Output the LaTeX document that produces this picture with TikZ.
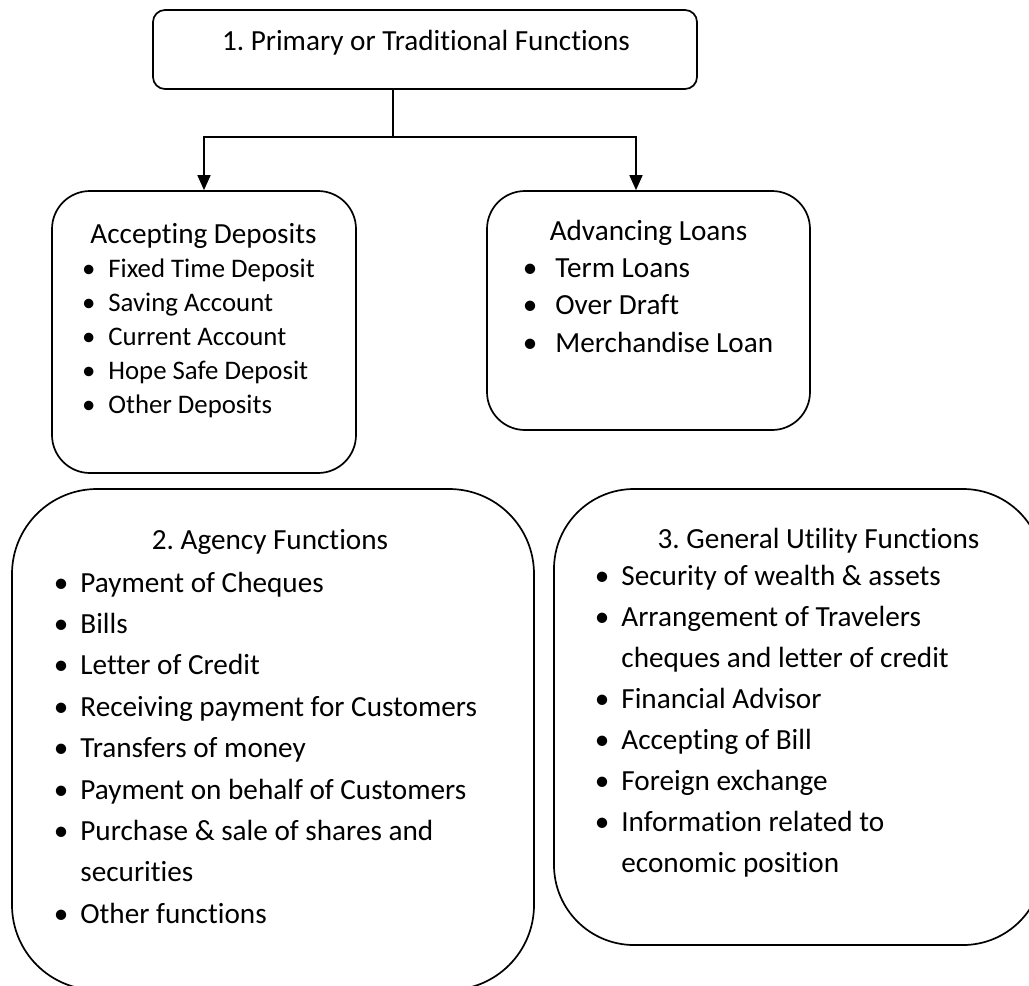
\documentclass[tikz,border=0pt]{standalone}
\usepackage{fontspec}
\setmainfont{Carlito}[Ligatures=NoCommon]
\frenchspacing
\usetikzlibrary{arrows.meta}

\tikzset{
  box/.style={draw, line width=0.85pt, rounded corners=#1, inner sep=0pt},
  link/.style={line width=0.85pt},
  arrow/.style={link, -{Triangle[width=6.5pt,length=7.5pt]}},
  head/.style={font=\fontsize{14.6}{17}\selectfont, anchor=base, inner sep=0pt},
  entry/.style={font=\fontsize{14.6}{17}\selectfont, anchor=base west, inner sep=0pt},
  small entry/.style={entry, font=\fontsize{13.4}{16}\selectfont},
}
% bullet hung to the left of the text
\newcommand{\blt}[1]{\llap{\textbullet\hskip #1}}

\begin{document}
\begin{tikzpicture}[x=0.5pt,y=-0.5pt]
    \useasboundingbox (0,0) rectangle (1029,986);
    \clip (0,0) rectangle (1029,986);

    % Top box
    \node[box=6pt, minimum width=272pt, minimum height=39.5pt] (primary) at (425,49.5) {};
    \node[head] (primary-title) at (426,50) {1. Primary or Traditional Functions};

    % Second row
    \node[box=19pt, minimum width=152pt, minimum height=141pt] (deposits) at (204,332) {};
    \node[box=19pt, minimum width=161.5pt, minimum height=119.5pt] (loans) at (648.5,310.5) {};

    % Split from the top box down to both boxes
    \coordinate (split) at (393,137);
    \draw[link] (primary.south -| split) -- (split);
    \draw[arrow] (split) -| (deposits.north);
    \draw[arrow] (split) -| ([xshift=-6.25pt]loans.north);

    \node[head] (deposits-title) at (203.5,243) {Accepting Deposits};
    \foreach \t [count=\i] in {Fixed Time Deposit, Saving Account, Current Account,
                               Hope Safe Deposit, Other Deposits}
        \node[small entry] (dep-\i) at (108,{277+(\i-1)*34}) {\blt{6.5pt}\t};

    \node[head] (loans-title) at (648.5,240) {Advancing Loans};
    \foreach \t [count=\i] in {Term Loans, Over Draft, Merchandise Loan}
        \node[entry] (loan-\i) at (555,{277+(\i-1)*37.5}) {\blt{9pt}\t};

    % Bottom row
    \node[box=42.5pt, minimum width=261pt, minimum height=250.5pt] (agency) at (273,739.5) {};
    \node[box=40pt, minimum width=244.5pt, minimum height=228pt] (utility) at (798.5,717) {};

    \node[head] (agency-title) at (270,549) {2. Agency Functions};
    \foreach \b/\t [count=\i] in {1/Payment of Cheques, 1/Bills, 1/Letter of Credit,
                                  1/Receiving payment for Customers, 1/Transfers of money,
                                  1/Payment on behalf of Customers,
                                  1/Purchase \& sale of shares and, 0/securities,
                                  1/Other functions}
        \node[entry] (ag-\i) at (80,{592+(\i-1)*41.4}) {\ifnum\b=1 \blt{6pt}\fi\t};

    \node[head] (utility-title) at (818.5,548) {3. General Utility Functions};
    \foreach \b/\t [count=\i] in {1/Security of wealth \& assets, 1/Arrangement of Travelers,
                                  0/cheques and letter of credit, 1/Financial Advisor,
                                  1/Accepting of Bill, 1/Foreign exchange,
                                  1/Information related to, 0/economic position}
        \node[entry] (ut-\i) at (621,{585+(\i-1)*41}) {\ifnum\b=1 \blt{6pt}\fi\t};
\end{tikzpicture}
\end{document}
